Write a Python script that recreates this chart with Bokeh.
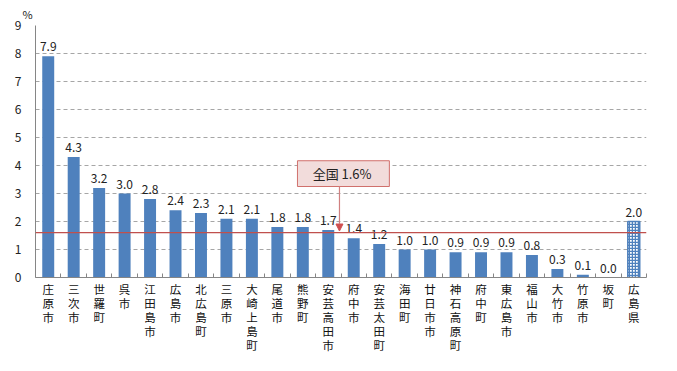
from bokeh.plotting import figure
from bokeh.models import FixedTicker, Range1d, Arrow, NormalHead, Span, ColumnDataSource
from bokeh.core.properties import value
from bokeh.embed import file_html
from bokeh.resources import INLINE

municipalities = ["庄原市", "三次市", "世羅町", "呉市", "江田島市", "広島市", "北広島町", "三原市",
                  "大崎上島町", "尾道市", "熊野町", "安芸高田市", "府中市", "安芸太田町", "海田町",
                  "廿日市市", "神石高原町", "府中町", "東広島市", "福山市", "大竹市", "竹原市", "坂町"]
rates = [7.9, 4.3, 3.2, 3.0, 2.8, 2.4, 2.3, 2.1, 2.1, 1.8, 1.8, 1.7, 1.4, 1.2, 1.0,
         1.0, 0.9, 0.9, 0.9, 0.8, 0.3, 0.1, 0.0]
prefecture = "広島県"
prefecture_rate = 2.0
national_label = "全国"
national_rate = 1.6
y_ticks = [0, 1, 2, 3, 4, 5, 6, 7, 8, 9]
unit_label = "%"

FONT = "Noto Sans CJK JP"
BAR = "#4F81BD"

categories = municipalities + [prefecture]
values_all = rates + [prefecture_rate]
n = len(categories)
xs = list(range(n))

p = figure(width=661, height=355, output_backend="svg", toolbar_location=None,
           x_range=Range1d(-0.5, n - 0.5), y_range=Range1d(0, 9),
           min_border_left=35, min_border_right=15, min_border_top=24, min_border_bottom=66)
p.outline_line_color = None
p.background_fill_color = "white"
p.border_fill_color = "white"

p.title.text = unit_label
p.title.align = "left"
p.title.offset = -13
p.title.standoff = 7
p.title.text_font = FONT
p.title.text_font_size = "11px"
p.title.text_font_style = "normal"
p.title.text_color = "#222222"

src = ColumnDataSource(dict(x=xs[:-1], top=rates))
p.vbar(x="x", top="top", width=0.47, source=src, fill_color=BAR, line_color=None)
p.vbar(x=[xs[-1]], top=[prefecture_rate], width=0.47, fill_color="white", line_color=BAR,
       line_width=1.5, hatch_pattern="cross", hatch_color=BAR, hatch_scale=3, hatch_weight=1.5)

lsrc = ColumnDataSource(dict(x=xs, y=values_all, t=["%.1f" % v for v in values_all]))
p.text(x="x", y="y", text="t", source=lsrc, text_align="center", text_baseline="bottom",
       y_offset=-5, text_font=value(FONT), text_font_size="12px", text_color="#222222")

p.add_layout(Span(location=national_rate, dimension="width", line_color="#C0504D", line_width=1.2))

# callout
p.quad(left=[9.79], right=[13.4], bottom=[3.25], top=[4.17], fill_color="#F2DCDB",
       line_color="#D0706C", line_width=1)
p.text(x=[11.6], y=[3.71], text=["%s  %.1f%%" % (national_label, national_rate)], text_align="center",
       text_baseline="middle", text_font=value(FONT), text_font_size="13px", text_color="#222222")
p.add_layout(Arrow(end=NormalHead(size=7, fill_color="#D05050", line_color="#D05050"),
                   x_start=11.44, y_start=3.25, x_end=11.44, y_end=1.66,
                   line_color="#D08080", line_width=1.2))

# axes
p.xgrid.grid_line_color = None
p.ygrid.ticker = FixedTicker(ticks=y_ticks)
p.ygrid.grid_line_color = "#A6A6A6"
p.ygrid.grid_line_dash = "4 3"

ya = p.yaxis[0]
ya.ticker = FixedTicker(ticks=y_ticks)
ya.axis_line_color = "#868686"
ya.major_tick_line_color = None
ya.major_tick_out = 0
ya.minor_tick_line_color = None
ya.minor_tick_out = 0
ya.major_label_standoff = 14
ya.major_label_text_font = FONT
ya.major_label_text_font_size = "12px"
ya.major_label_text_color = "#222222"

xa = p.xaxis[0]
xa.ticker = FixedTicker(ticks=xs, minor_ticks=[i + 0.5 for i in range(-1, n)])
xa.major_label_overrides = {i: "\n".join(c) for i, c in enumerate(categories)}
xa.axis_line_color = "#868686"
xa.major_tick_line_color = None
xa.major_tick_in = 0
xa.major_tick_out = 0
xa.minor_tick_line_color = "#868686"
xa.minor_tick_in = 4
xa.minor_tick_out = 0
xa.major_label_standoff = 3
xa.major_label_text_font = FONT
xa.major_label_text_font_size = "11.5px"
xa.major_label_text_line_height = 0.88
xa.major_label_text_color = "#111111"
xa.major_label_text_baseline = "top"

open("out.html", "w").write(file_html(p, INLINE))
